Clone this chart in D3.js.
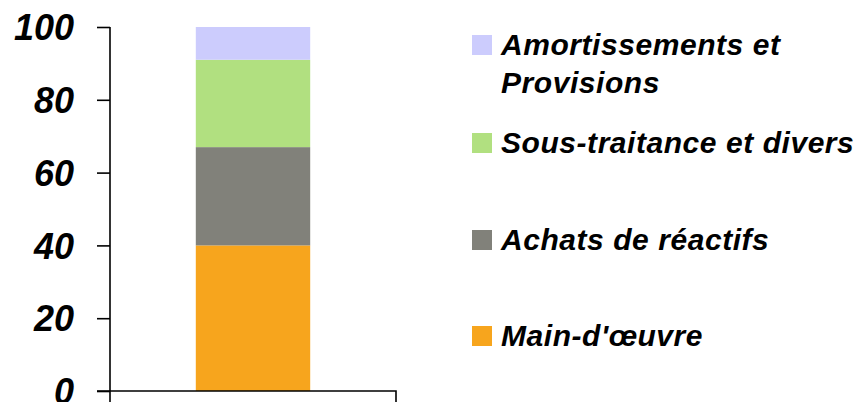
<!DOCTYPE html>
<html><head><meta charset="utf-8">
<script src="https://cdn.jsdelivr.net/npm/d3@7"></script>
<style>html,body{margin:0;padding:0;background:#fff;overflow:hidden}</style>
</head><body>
<svg id="c" width="860" height="402"></svg>
<script>
const categories = ["Total"];
const seriesNames = ["Main-d'œuvre", "Achats de réactifs", "Sous-traitance et divers", "Amortissements et Provisions"];
const seriesValues = [40, 27, 24, 9];
const seriesColors = ["#F7A51D", "#81817A", "#B1E080", "#CCCCFD"];
const legendLines = [["Main-d'œuvre"], ["Achats de réactifs"], ["Sous-traitance et divers"], ["Amortissements et", "Provisions"]];
const yTicks = [0, 20, 40, 60, 80, 100];

const svg = d3.select("#c");
const font = "'Liberation Sans', Arial, sans-serif";
const y = d3.scaleLinear().domain([0, 100]).range([391, 27]);
const x = d3.scaleBand().domain(categories).range([110, 396]).paddingInner(0).paddingOuter(0.75);

// stacked data
const row = {cat: categories[0]};
seriesNames.forEach((n, i) => row[n] = seriesValues[i]);
const stack = d3.stack().keys(seriesNames)([row]);

svg.append("g").selectAll("rect").data(stack).join("rect")
  .attr("x", x(categories[0]))
  .attr("width", x.bandwidth())
  .attr("y", d => y(d[0][1]))
  .attr("height", d => y(d[0][0]) - y(d[0][1]))
  .attr("fill", (d, i) => seriesColors[i]);

// y axis
const yAxis = d3.axisLeft(y).tickValues(yTicks).tickSize(13).tickPadding(0).tickFormat(d3.format("d"));
const gy = svg.append("g").attr("transform", "translate(110,0)").call(yAxis);
gy.select(".domain").attr("d", "M0,27V402").attr("stroke", "#000").attr("stroke-width", 1.6);
gy.selectAll(".tick line").attr("stroke", "#000").attr("stroke-width", 1.6);
gy.selectAll(".tick text").attr("x", -36).attr("dy", "0.35em")
  .attr("font-family", font).attr("font-size", 36).attr("font-weight", "bold").attr("font-style", "italic").attr("fill", "#000");

// x axis
const xAxis = d3.axisBottom(x).tickSize(0).tickFormat("");
const gx = svg.append("g").attr("transform", "translate(0,391)").call(xAxis);
gx.select(".domain").attr("d", "M97,0H396V11").attr("stroke", "#000").attr("stroke-width", 1.6).attr("fill", "none");

// legend
const legendY = [346, 250, 153, 55];
const lg = svg.append("g");
seriesNames.forEach((n, i) => {
  lg.append("rect").attr("x", 472).attr("y", legendY[i] - 20).attr("width", 20).attr("height", 20).attr("fill", seriesColors[i]);
  const t = lg.append("text").attr("x", 501).attr("y", legendY[i])
    .attr("font-family", font).attr("font-size", 30).attr("letter-spacing", 0.55).attr("font-weight", "bold").attr("font-style", "italic").attr("fill", "#000");
  legendLines[i].forEach((l, j) => t.append("tspan").attr("x", 501).attr("dy", j === 0 ? 0 : 38).text(l));
});
</script>
</body></html>
